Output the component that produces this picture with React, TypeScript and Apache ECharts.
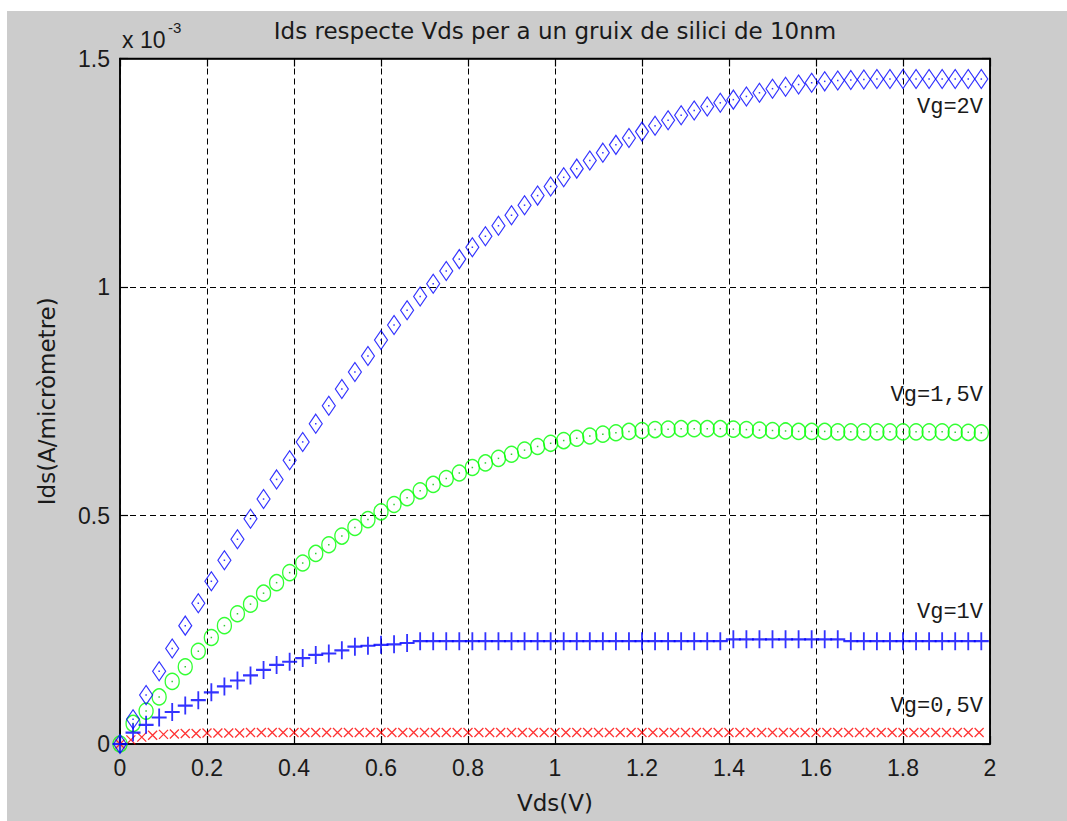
import React, { useEffect, useRef } from "react";
import * as echarts from "echarts";

// ---- texts ----
const chartTitle = "Ids respecte Vds per a un gruix de silici de 10nm";
const xAxisName = "Vds(V)";
const yAxisName = "Ids(A/micròmetre)";
const yScaleNote = "x 10";
const yScaleExp = "-3";

// ---- axes ----
const xMin = 0;
const xMax = 2;
const xInterval = 0.2;
const yMin = 0;
const yMax = 1.5;
const yInterval = 0.5;

// ---- sample grids (Vds, V) ----
const vdsA = [
  0, 0.03, 0.06, 0.09, 0.12, 0.15, 0.18, 0.21, 0.24, 0.27, 0.3,
  0.33, 0.36, 0.39, 0.42, 0.45, 0.48, 0.51, 0.54, 0.57, 0.6,
  0.63, 0.66, 0.69, 0.72, 0.75, 0.78, 0.81, 0.84, 0.87, 0.9,
  0.93, 0.96, 0.99, 1.02, 1.05, 1.08, 1.11, 1.14, 1.17, 1.2,
  1.23, 1.26, 1.29, 1.32, 1.35, 1.38, 1.41, 1.44, 1.47, 1.5,
  1.53, 1.56, 1.59, 1.62, 1.65, 1.68, 1.71, 1.74, 1.77, 1.8,
  1.83, 1.86, 1.89, 1.92, 1.95, 1.98,
];
const vdsB = [
  0, 0.025, 0.05, 0.075, 0.1, 0.125, 0.15, 0.175, 0.2, 0.225,
  0.25, 0.275, 0.3, 0.325, 0.35, 0.375, 0.4, 0.425, 0.45, 0.475,
  0.5, 0.525, 0.55, 0.575, 0.6, 0.625, 0.65, 0.675, 0.7, 0.725,
  0.75, 0.775, 0.8, 0.825, 0.85, 0.875, 0.9, 0.925, 0.95, 0.975,
  1, 1.025, 1.05, 1.075, 1.1, 1.125, 1.15, 1.175, 1.2, 1.225,
  1.25, 1.275, 1.3, 1.325, 1.35, 1.375, 1.4, 1.425, 1.45, 1.475,
  1.5, 1.525, 1.55, 1.575, 1.6, 1.625, 1.65, 1.675, 1.7, 1.725,
  1.75, 1.775, 1.8, 1.825, 1.85, 1.875, 1.9, 1.925, 1.95, 1.975,
];

// ---- Ids values (x 10^-3 A/um) ----
const idsVg2 = [
  0, 0.054, 0.107, 0.159, 0.209, 0.259, 0.308, 0.356, 0.402, 0.448, 0.493,
  0.536, 0.579, 0.621, 0.661, 0.701, 0.74, 0.777, 0.814, 0.849, 0.884,
  0.917, 0.949, 0.979, 1.007, 1.035, 1.061, 1.087, 1.111, 1.134, 1.157,
  1.179, 1.2, 1.22, 1.24, 1.259, 1.277, 1.294, 1.311, 1.326, 1.34,
  1.353, 1.365, 1.376, 1.386, 1.395, 1.403, 1.41, 1.417, 1.425, 1.434,
  1.438, 1.443, 1.447, 1.45, 1.452, 1.453, 1.454, 1.455, 1.455, 1.455,
  1.455, 1.455, 1.455, 1.455, 1.455, 1.455,
];
const idsVg15 = [
  0, 0.045, 0.072, 0.103, 0.137, 0.169, 0.203, 0.233, 0.259, 0.285, 0.306,
  0.33, 0.353, 0.375, 0.396, 0.417, 0.436, 0.455, 0.474, 0.491, 0.508,
  0.524, 0.539, 0.554, 0.568, 0.581, 0.593, 0.605, 0.615, 0.625, 0.634,
  0.643, 0.651, 0.658, 0.664, 0.669, 0.674, 0.678, 0.681, 0.684, 0.686,
  0.688, 0.689, 0.69, 0.69, 0.69, 0.69, 0.689, 0.688, 0.687, 0.686,
  0.685, 0.684, 0.684, 0.684, 0.683, 0.683, 0.683, 0.683, 0.683, 0.683,
  0.683, 0.683, 0.683, 0.682, 0.682, 0.681,
];
const idsVg1 = [
  0, 0.025, 0.042, 0.058, 0.07, 0.084, 0.096, 0.113, 0.126, 0.139, 0.15,
  0.162, 0.173, 0.18, 0.188, 0.195, 0.198, 0.205, 0.213, 0.215, 0.217,
  0.218, 0.221, 0.225, 0.225, 0.225, 0.225, 0.225, 0.225, 0.225, 0.225,
  0.225, 0.225, 0.225, 0.225, 0.225, 0.225, 0.225, 0.225, 0.225, 0.225,
  0.225, 0.225, 0.225, 0.225, 0.225, 0.225, 0.229, 0.229, 0.229, 0.229,
  0.229, 0.229, 0.229, 0.229, 0.229, 0.225, 0.225, 0.225, 0.225, 0.225,
  0.225, 0.225, 0.225, 0.225, 0.225, 0.225,
];
const idsVg05 = [
  0, 0.009, 0.015, 0.019, 0.021, 0.022, 0.023, 0.023, 0.024, 0.024,
  0.024, 0.024, 0.025, 0.025, 0.025, 0.025, 0.025, 0.025, 0.025, 0.025,
  0.025, 0.025, 0.025, 0.025, 0.025, 0.025, 0.025, 0.025, 0.025, 0.025,
  0.025, 0.025, 0.025, 0.025, 0.025, 0.025, 0.025, 0.025, 0.025, 0.025,
  0.025, 0.025, 0.025, 0.025, 0.025, 0.025, 0.025, 0.025, 0.025, 0.025,
  0.025, 0.025, 0.025, 0.025, 0.025, 0.025, 0.025, 0.025, 0.025, 0.025,
  0.025, 0.025, 0.025, 0.025, 0.025, 0.025, 0.025, 0.025, 0.025, 0.025,
  0.025, 0.025, 0.025, 0.025, 0.025, 0.025, 0.025, 0.025, 0.025, 0.025,
];

const curveLabels = ["Vg=2V", "Vg=1,5V", "Vg=1V", "Vg=0,5V"];

const pairs = (xs: number[], ys: number[]) => xs.map((x, i) => [x, ys[i]]);

const PLUS = "path://M5,0L5,10M0,5L10,5";
const CROSS = "path://M0,0L10,10M10,0L0,10";

export default function App() {
  const ref = useRef<HTMLDivElement>(null);

  useEffect(() => {
    if (!ref.current) return;
    const chart = echarts.init(ref.current, undefined, { renderer: "svg" });

    const tickFont = { fontFamily: "Liberation Sans", fontSize: 23, color: "#1a1a1a" };
    const nameFont = { fontFamily: "DejaVu Sans", fontSize: 23, color: "#1a1a1a" };
    const gridDash = { color: "#000", type: [6, 4] as any, width: 1 };
    const axisLine = { show: true, onZero: false, lineStyle: { color: "#000", width: 1.5 } };
    const tick = { show: true, inside: true, length: 8, lineStyle: { color: "#000", width: 1.2 } };
    const labelFont = { fontFamily: "Liberation Mono", fontSize: 22, fill: "#1a1a1a" };

    const hollow = (color: string, width: number) => ({
      color: "transparent",
      borderColor: color,
      borderWidth: width,
    });

    const option: any = {
      animation: false,
      backgroundColor: "#cccccc",
      grid: {
        left: 113,
        right: 77,
        top: 47.5,
        bottom: 77,
        show: true,
        backgroundColor: "#ffffff",
        borderColor: "#000",
        borderWidth: 1.5,
      },
      xAxis: [
        {
          type: "value",
          min: xMin,
          max: xMax,
          interval: xInterval,
          position: "bottom",
          axisLine,
          axisTick: tick,
          axisLabel: { ...tickFont, margin: 12 },
          splitLine: { show: true, lineStyle: gridDash },
          name: xAxisName,
          nameLocation: "middle",
          nameGap: 47,
          nameTextStyle: nameFont,
        },
        {
          type: "value",
          min: xMin,
          max: xMax,
          interval: xInterval,
          position: "top",
          axisLine,
          axisTick: tick,
          axisLabel: { show: false },
          splitLine: { show: false },
        },
      ],
      yAxis: [
        {
          type: "value",
          min: yMin,
          max: yMax,
          interval: yInterval,
          position: "left",
          axisLine,
          axisTick: tick,
          axisLabel: { ...tickFont, margin: 10 },
          splitLine: { show: true, lineStyle: gridDash },
          name: yAxisName,
          nameLocation: "middle",
          nameRotate: 90,
          nameGap: 62,
          nameTextStyle: nameFont,
        },
        {
          type: "value",
          min: yMin,
          max: yMax,
          interval: yInterval,
          position: "right",
          axisLine,
          axisTick: tick,
          axisLabel: { show: false },
          splitLine: { show: false },
        },
      ],
      series: [
        {
          type: "scatter",
          name: curveLabels[3],
          data: pairs(vdsB, idsVg05),
          symbol: CROSS,
          symbolSize: [9, 9],
          itemStyle: hollow("#ff0000", 1.3),
          silent: true,
        },
        {
          type: "scatter",
          name: curveLabels[1],
          data: pairs(vdsA, idsVg15),
          symbol: "circle",
          symbolSize: [14, 16],
          itemStyle: hollow("#00ff00", 1.4),
          silent: true,
        },
        {
          type: "scatter",
          name: curveLabels[1] + " dot",
          data: pairs(vdsA, idsVg15),
          symbol: "rect",
          symbolSize: 1.5,
          itemStyle: { color: "#00c000" },
          silent: true,
        },
        {
          type: "scatter",
          name: curveLabels[2],
          data: pairs(vdsA, idsVg1),
          symbol: PLUS,
          symbolSize: [15, 18],
          itemStyle: hollow("#0000ff", 2),
          silent: true,
        },
        {
          type: "scatter",
          name: curveLabels[0],
          data: pairs(vdsA, idsVg2),
          symbol: "diamond",
          symbolSize: [13, 19],
          itemStyle: hollow("#0000ff", 1.2),
          silent: true,
        },
        {
          type: "scatter",
          name: curveLabels[0] + " dot",
          data: pairs(vdsA, idsVg2),
          symbol: "rect",
          symbolSize: 1.5,
          itemStyle: { color: "#0000ff" },
          silent: true,
        },
      ],
      graphic: [
        {
          type: "text",
          x: 548,
          y: 20,
          style: {
            text: chartTitle,
            fontFamily: "DejaVu Sans",
            fontSize: 23,
            fill: "#1a1a1a",
            align: "center",
            verticalAlign: "middle",
          },
        },
        {
          type: "text",
          x: 115,
          y: 29,
          style: {
            text: yScaleNote,
            fontFamily: "Liberation Sans",
            fontSize: 23,
            fill: "#1a1a1a",
            align: "left",
            verticalAlign: "middle",
          },
        },
        {
          type: "text",
          x: 161,
          y: 16,
          style: {
            text: yScaleExp,
            fontFamily: "Liberation Sans",
            fontSize: 15,
            fill: "#1a1a1a",
            align: "left",
            verticalAlign: "middle",
          },
        },
        {
          type: "text",
          x: 976,
          y: 96,
          style: { text: curveLabels[0], ...labelFont, align: "right", verticalAlign: "middle" },
        },
        {
          type: "text",
          x: 976,
          y: 384,
          style: { text: curveLabels[1], ...labelFont, align: "right", verticalAlign: "middle" },
        },
        {
          type: "text",
          x: 976,
          y: 601,
          style: { text: curveLabels[2], ...labelFont, align: "right", verticalAlign: "middle" },
        },
        {
          type: "text",
          x: 976,
          y: 695,
          style: { text: curveLabels[3], ...labelFont, align: "right", verticalAlign: "middle" },
        },
      ],
    };

    chart.setOption(option);
    return () => chart.dispose();
  }, []);

  return (
    <div
      ref={ref}
      style={{ position: "absolute", left: 7, top: 11, width: 1060, height: 810 }}
    />
  );
}
